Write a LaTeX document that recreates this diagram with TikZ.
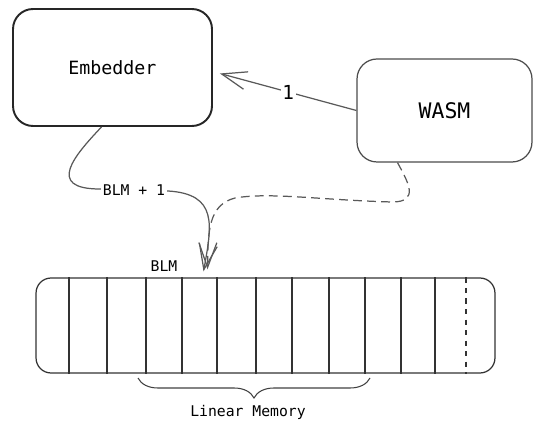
\documentclass[tikz,border=0pt]{standalone}
\usepackage{fontspec}
\newfontfamily\sketchfont{DejaVu Sans Mono}
\usetikzlibrary{arrows.meta,calc,decorations.pathreplacing}

\begin{document}
\begin{tikzpicture}[x=0.02cm,y=-0.02cm,
        box/.style={draw,rounded corners=0.4cm,align=center},
        wire/.style={draw=black!65,line width=0.7pt},
        tip/.style={-{Straight Barb[length=5mm,width=3.6mm]}},
        small/.style={font=\sketchfont\fontsize{8.4}{10}\selectfont}]
    % fix the page size
    \useasboundingbox (0,0) rectangle (533,421);

    % draw the two boxes
    \node[box,draw=black!85,line width=1.1pt,minimum width=3.98cm,minimum height=2.34cm,
        font=\sketchfont\fontsize{10.4}{12}\selectfont] (embedder) at (112.5,67.5) {Embedder};
    \node[box,draw=black!70,line width=0.7pt,minimum width=3.5cm,minimum height=2.06cm,
        font=\sketchfont\fontsize{12.2}{14}\selectfont] (wasm) at (444.5,110.5) {WASM};

    % draw linear memory
    \node[draw=black!80,line width=0.7pt,rounded corners=0.3cm,minimum width=9.18cm,
        minimum height=1.9cm] (memory) at (265.5,325.5) {};
    \foreach \x in {69,107,146,182,217,256,292,329,365,401,435}{
        \draw[black!80,line width=0.6pt] (\x,0 |- memory.north) -- (\x,0 |- memory.south);
    }
    \draw[black!80,line width=0.6pt,dashed] (466,0 |- memory.north) -- (466,0 |- memory.south);

    % brace and labels under memory
    \draw[black!75,line width=0.6pt,decorate,decoration={brace,mirror,amplitude=0.4cm}]
        (138,378) -- (370,378);
    \node[small] (lmlabel) at (248,412) {Linear Memory};
    \node[small] (blmlabel) at (164,266) {BLM};

    % arrow from wasm to embedder
    \draw[wire,tip] (wasm.west) -- node[fill=white,inner sep=1pt,
        font=\sketchfont\fontsize{11}{13}\selectfont] {1} ($(embedder.east)+(7,6)$);

    % arrow from embedder to memory
    \coordinate (blmtip) at ($(memory.north)+(-62,-6)$);
    \draw[wire,tip] ($(embedder.south)+(-11,0)$) .. controls (75,155) and (45,189) .. (100,189)
        -- node[small,fill=white,inner sep=1pt] {BLM + 1} (168,191)
        .. controls (218,194) and (212,225) .. (blmtip);

    % dashed arrow from wasm to memory
    \coordinate (dashtip) at ($(memory.north)+(-58,-8)$);
    \draw[wire,tip,dashed,dash pattern=on 5pt off 3pt] ($(wasm.south)+(-47,0)$)
        .. controls (408,182) and (420,202) .. (392,202)
        .. controls (320,200) and (270,192) .. (235,198)
        .. controls (208,205) and (208,232) .. (dashtip);
\end{tikzpicture}
\end{document}
